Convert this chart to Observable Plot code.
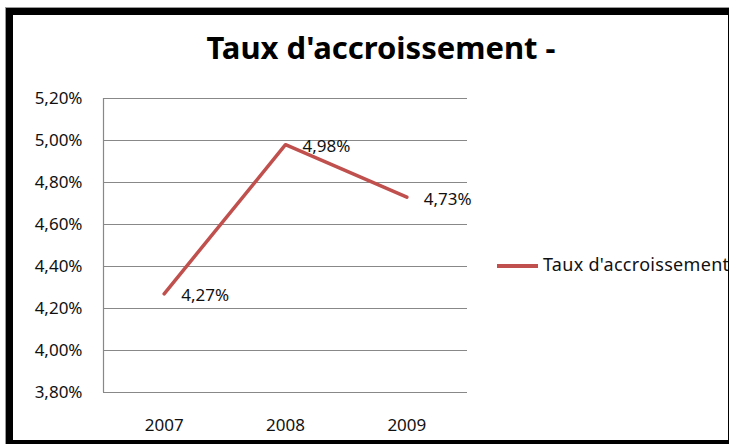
<!DOCTYPE html>
<html>
<head>
<meta charset="utf-8">
<script src="https://cdn.jsdelivr.net/npm/d3@7"></script>
<script src="https://cdn.jsdelivr.net/npm/@observablehq/plot@0.6"></script>
<style>
  html, body { margin: 0; padding: 0; background: #fff; }
  #wrap { position: relative; width: 729px; height: 444px; overflow: hidden; background: #fff; font-family: "Noto Sans", sans-serif; }
  #outer { position: absolute; left: 5px; top: 7px; width: 724px; height: 445px; border-top: 1px solid #9a9a9a; border-left: 1px solid #9a9a9a; box-sizing: border-box; }
  #frame { position: absolute; left: 6px; top: 8px; width: 723px; height: 436px; border-top: 7px solid #000; border-left: 7px solid #000; border-bottom: 4px solid #000; border-right: 1px solid #000; box-sizing: border-box; }
  #title { position: absolute; left: 0; width: 762px; top: 32px; text-align: center; font-size: 31px; line-height: 31px; font-weight: 700; color: #000; white-space: nowrap; }
  #legend { position: absolute; left: 497px; top: 255px; height: 24px; white-space: nowrap; font-size: 18px; line-height: 18px; color: #111; }
  #legend .sw { position: absolute; left: 0; top: 9px; width: 41px; height: 4px; background: #C0504D; }
  #legend .lb { position: absolute; left: 46px; top: 0; letter-spacing: 0.3px; }
  #chart { position: absolute; left: 0; top: 0; }
</style>
</head>
<body>
<div id="wrap">
  <div id="outer"></div>
  <div id="chart"></div>
  <div id="title"></div>
  <div id="legend"><span class="sw"></span><span class="lb"></span></div>
  <div id="frame"></div>
</div>
<script>
const chartTitle = "Taux d'accroissement -";
const seriesName = "Taux d'accroissement -";
const years = [2007, 2008, 2009];
const values = [4.27, 4.98, 4.73];
const yTicks = [3.8, 4.0, 4.2, 4.4, 4.6, 4.8, 5.0, 5.2];

const data = years.map((y, i) => ({year: y, value: values[i]}));
const fmt = v => v.toFixed(2).replace(".", ",") + "%";

document.getElementById("title").textContent = chartTitle;
document.querySelector("#legend .lb").textContent = seriesName;

const chart = Plot.plot({
  width: 729,
  height: 444,
  marginTop: 98,
  marginBottom: 52,
  marginLeft: 103,
  marginRight: 262,
  style: { background: "transparent", fontFamily: "Noto Sans, sans-serif", fontSize: "17px", color: "#111" },
  x: {
    domain: [years[0] - 0.5, years[years.length - 1] + 0.5],
    ticks: years,
    tickFormat: d => String(d),
    tickSize: 0,
    tickPadding: 26,
    label: null
  },
  y: {
    domain: [yTicks[0], yTicks[yTicks.length - 1]],
    ticks: yTicks,
    tickFormat: fmt,
    tickSize: 0,
    tickPadding: 21,
    label: null
  },
  marks: [
    Plot.ruleY(yTicks, {stroke: "#888", strokeWidth: 1.2}),
    Plot.ruleX([years[0] - 0.5], {stroke: "#888", strokeWidth: 1.2}),
    Plot.line(data, {x: "year", y: "value", stroke: "#C0504D", strokeWidth: 3.5}),
    Plot.text(data, {x: "year", y: "value", text: d => fmt(d.value), textAnchor: "start", dx: 17, dy: 2, fontSize: 17, fill: "#111"})
  ]
});
document.getElementById("chart").appendChild(chart);
</script>
</body>
</html>
